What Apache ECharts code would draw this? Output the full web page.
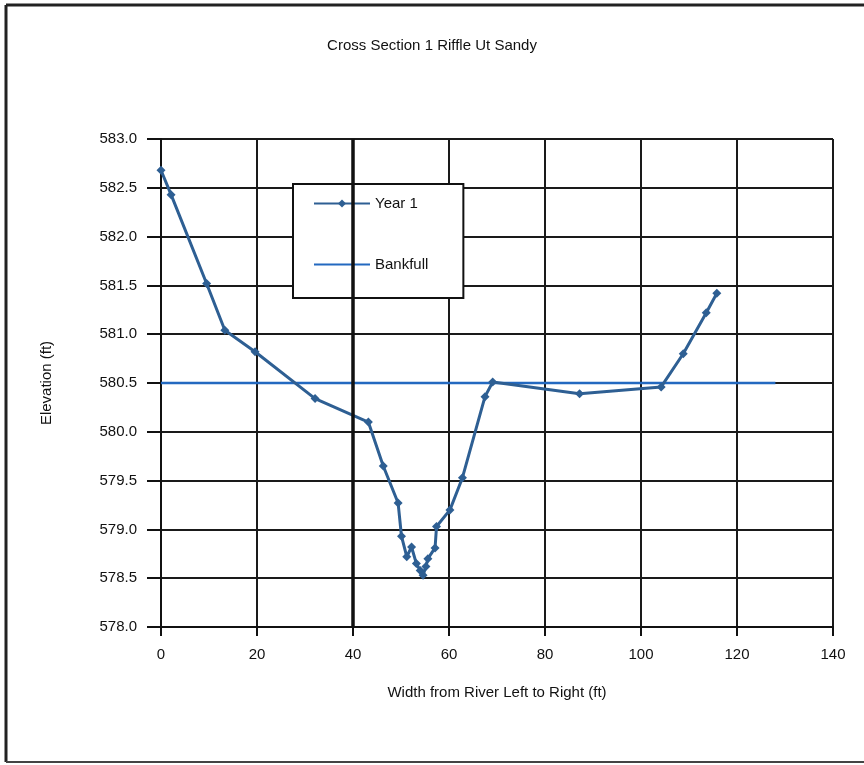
<!DOCTYPE html>
<html>
<head>
<meta charset="utf-8">
<script src="https://cdn.jsdelivr.net/npm/echarts@6/dist/echarts.min.js"></script>
<style>
html,body{margin:0;padding:0;background:#fff;}
#chart{width:864px;height:765px;}
</style>
</head>
<body>
<div id="chart"></div>
<script>
var titleText = "Cross Section 1 Riffle Ut Sandy";
var xAxisName = "Width from River Left to Right (ft)";
var yAxisName = "Elevation (ft)";
var seriesNames = ["Year 1", "Bankfull"];

var widthFt = [0, 2.1, 9.5, 13.3, 19.6, 32.1, 43.2, 46.3, 49.4, 50.1, 51.2, 52.2, 53.2, 54.0, 54.6, 55.2, 55.6, 57.1, 57.4, 60.2, 62.8, 67.5, 69.1, 87.2, 104.2, 108.8, 113.6, 115.8];
var elevation = [582.68, 582.43, 581.52, 581.04, 580.82, 580.34, 580.10, 579.65, 579.27, 578.93, 578.72, 578.82, 578.65, 578.58, 578.53, 578.62, 578.70, 578.81, 579.03, 579.20, 579.53, 580.36, 580.51, 580.39, 580.46, 580.80, 581.22, 581.42];

var bankfullX = [0, 128];
var bankfullY = [580.5, 580.5];

var xTicks = [0, 20, 40, 60, 80, 100, 120, 140];
var yTicks = [578.0, 578.5, 579.0, 579.5, 580.0, 580.5, 581.0, 581.5, 582.0, 582.5, 583.0];

var year1Data = widthFt.map(function (x, i) { return [x, elevation[i]]; });
var bankData = bankfullX.map(function (x, i) { return [x, bankfullY[i]]; });

var font = "Liberation Sans, Arial, sans-serif";
var chart = echarts.init(document.getElementById('chart'), null, {renderer: 'canvas'});
chart.setOption({
  backgroundColor: '#ffffff',
  animation: false,
  title: {
    text: titleText,
    left: 'center',
    top: 33,
    textStyle: {fontFamily: font, fontSize: 15, fontWeight: 'normal', color: '#111'}
  },
  graphic: [
    {type: 'line', shape: {x1: 6, y1: 5, x2: 864, y2: 5}, style: {stroke: '#222', lineWidth: 3}},
    {type: 'line', shape: {x1: 6, y1: 5, x2: 6, y2: 762}, style: {stroke: '#222', lineWidth: 3}},
    {type: 'line', shape: {x1: 6, y1: 762, x2: 864, y2: 762}, style: {stroke: '#444', lineWidth: 2}}
  ],
  legend: {
    show: true,
    left: 293,
    top: 184,
    orient: 'vertical',
    padding: [12, 35, 26, 20],
    itemGap: 46,
    itemWidth: 56,
    itemHeight: 10,
    backgroundColor: '#fff',
    borderColor: '#111',
    borderWidth: 2,
    textStyle: {fontFamily: font, fontSize: 15, color: '#111'},
    data: [
      {name: seriesNames[0]},
      {name: seriesNames[1], itemStyle: {opacity: 0}}
    ]
  },
  grid: {left: 161, right: 31, top: 139, bottom: 138, containLabel: false},
  xAxis: {
    type: 'value',
    min: 0,
    max: 140,
    interval: 20,
    name: xAxisName,
    nameLocation: 'middle',
    nameGap: 58,
    nameTextStyle: {fontFamily: font, fontSize: 15, color: '#111'},
    axisLine: {show: true, onZero: false, lineStyle: {color: '#111', width: 2}},
    axisTick: {show: true, length: 9, inside: false, lineStyle: {color: '#111', width: 2}},
    axisLabel: {fontFamily: font, fontSize: 15, color: '#111', margin: 20,
      formatter: function (v) { return xTicks.indexOf(v) >= 0 ? String(v) : ''; }},
    splitLine: {show: true, lineStyle: {color: '#1a1a1a', width: 2}}
  },
  yAxis: {
    type: 'value',
    min: 578.0,
    max: 583.0,
    interval: 0.5,
    name: yAxisName,
    nameLocation: 'middle',
    nameGap: 107,
    nameRotate: 90,
    nameTextStyle: {fontFamily: font, fontSize: 15, color: '#111'},
    axisLine: {show: true, lineStyle: {color: '#111', width: 2}},
    axisTick: {show: true, length: 14, lineStyle: {color: '#111', width: 2}},
    axisLabel: {fontFamily: font, fontSize: 15, color: '#111', margin: 24,
      formatter: function (v) { return v.toFixed(1); }},
    splitLine: {show: true, lineStyle: {color: '#1a1a1a', width: 2}}
  },
  series: [
    {
      name: seriesNames[0],
      type: 'line',
      data: year1Data,
      symbol: 'diamond',
      symbolSize: 9,
      lineStyle: {color: '#2e5f93', width: 3},
      itemStyle: {color: '#2e5f93'},
      z: 4
    },
    {
      name: seriesNames[1],
      type: 'line',
      data: bankData,
      symbol: 'none',
      lineStyle: {color: '#2369c0', width: 2.5},
      itemStyle: {color: '#2369c0'},
      z: 3,
      markLine: {
        silent: true,
        symbol: 'none',
        label: {show: false},
        lineStyle: {color: '#111', width: 3.5, type: 'solid'},
        data: [{xAxis: 40}]
      }
    }
  ]
});
</script>
</body>
</html>
